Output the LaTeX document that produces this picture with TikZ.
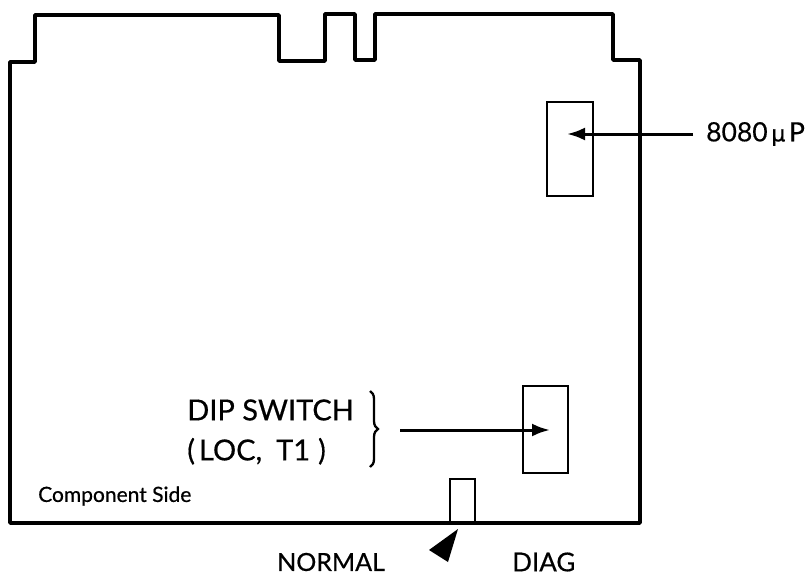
\documentclass[tikz,border=0pt]{standalone}
\usepackage{fontspec}
\setmainfont{Lato}[FakeBold=0.5]
\newfontfamily\symfont{DejaVu Sans}[FakeBold=0.5]
\usetikzlibrary{arrows.meta,decorations.pathreplacing}
\tikzset{
  board/.style={line width=3.8pt,line join=round},
  part/.style={draw,line width=2.4pt,inner sep=0pt,anchor=north west},
  lead/.style={line width=3pt,-{Latex[length=18pt,width=13pt]}},
  lbl/.style={inner sep=0pt,align=center},
  sz/.style={font=\fontsize{#1pt}{40pt}\selectfont}
}
\begin{document}
\begin{tikzpicture}[x=1pt,y=-1pt]
\useasboundingbox (0,0) rectangle (811,578);
\draw[board] (10,523) -- (10,62) -- (35,62) -- (35,15) -- (279,15) -- (279,61) -- (325,61) -- (325,14) -- (355,14) -- (355,60) -- (375,60) -- (375,14) -- (613,14) -- (613,60) -- (640,60) -- (640,523) -- cycle;
\node[part,minimum width=46.5pt,minimum height=94pt] (cpu) at (545.5,100.5) {};
\node[part,minimum width=45pt,minimum height=87pt] (dip) at (521.5,384.5) {};
\node[part,minimum width=25pt,minimum height=45pt] (sw) at (448.5,477.5) {};
\coordinate (cputip) at (567,134);
\coordinate (diptip) at (550,430);
\node[lbl,sz=26.5,anchor=west] (cpulabel) at (706,134) {8080{\symfont\fontsize{22pt}{26pt}\selectfont\,μ\,}P};
\coordinate (cpustart) at (693,134);
\draw[lead] (cpustart) -- (cputip);
\node[lbl,sz=29,anchor=east,align=left] (diplabel) at (354,432) {DIP SWITCH\\(\hspace{4pt}LOC,\hspace{14pt}T1\hspace{8pt})};
\coordinate (bracetop) at (370,391);
\coordinate (bracebot) at (370,467);
\draw[line width=2.3pt,decorate,decoration={brace,amplitude=8pt}] (bracetop) -- (bracebot);
\coordinate (dipstart) at (400,430);
\draw[lead] (dipstart) -- (diptip);
\node[lbl,sz=21,anchor=west] (side) at (38,496) {Component Side};
\node[lbl,sz=25,anchor=west] (normal) at (277,562) {NORMAL};
\node[lbl,sz=26,anchor=west] (diag) at (512,562) {DIAG};
\fill (458,529) -- (429,550) -- (448,562) -- cycle;
\end{tikzpicture}
\end{document}
